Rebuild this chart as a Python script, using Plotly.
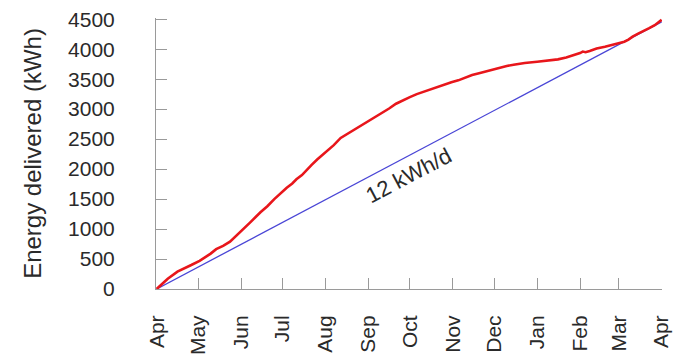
import datetime as dt
import plotly.graph_objects as go

# ---- data ----
start = dt.date(2006, 4, 1)
red_days = [0, 8, 15, 19, 25, 31, 36, 39, 43, 48, 53, 60, 64, 68, 75, 80, 85, 90, 94, 98,
            101, 105, 108, 112, 116, 120, 124, 128, 133, 138, 143, 148, 153, 158, 163, 168,
            173, 178, 183, 188, 193, 198, 203, 208, 213, 218, 223, 228, 233, 238, 243, 248,
            253, 258, 266, 275, 283, 290, 296, 300, 304, 306, 308, 310, 313, 318, 324, 330,
            335, 338, 341, 344, 348, 352, 356, 360, 363, 365]
red_kwh = [0, 170, 290, 330, 400, 470, 540, 590, 665, 720, 790, 940, 1030, 1120, 1280, 1380,
           1500, 1610, 1690, 1760, 1830, 1900, 1980, 2070, 2160, 2240, 2330, 2400, 2520, 2590,
           2650, 2720, 2800, 2860, 2930, 3010, 3090, 3150, 3200, 3250, 3290, 3340, 3370, 3410,
           3450, 3480, 3530, 3570, 3600, 3630, 3660, 3700, 3720, 3740, 3770, 3790, 3810, 3830,
           3860, 3890, 3910, 3935, 3960, 3950, 3970, 4010, 4040, 4075, 4100, 4125, 4160, 4210,
           4260, 4300, 4350, 4400, 4460, 4490]
ref_days = [0, 365]
ref_kwh = [0, 4455]
month_labels = ["Apr", "May", "Jun", "Jul", "Aug", "Sep", "Oct", "Nov", "Dec",
                "Jan", "Feb", "Mar", "Apr"]
y_ticks = [0, 500, 1000, 1500, 2000, 2500, 3000, 3500, 4000, 4500]
label_text = "12 kWh/d"
label_day = 182
label_kwh = 1900

to_date = lambda d: start + dt.timedelta(days=d)
month_ticks = []
for i in range(13):
    m = (start.month - 1 + i) % 12 + 1
    y = start.year + (start.month - 1 + i) // 12
    month_ticks.append(dt.date(y, m, 1))

FONT = "Liberation Sans, Arial, sans-serif"
AX = "#9a9a9a"
TXT = "#2a2a2a"

fig = go.Figure()
fig.add_trace(go.Scatter(x=[to_date(d) for d in ref_days], y=ref_kwh, mode="lines",
                         line=dict(color="#4a46d6", width=1.3), showlegend=False,
                         hoverinfo="skip"))
fig.add_trace(go.Scatter(x=[to_date(d) for d in red_days], y=red_kwh, mode="lines",
                         line=dict(color="#e8161b", width=2.6), showlegend=False))

fig.add_annotation(x=to_date(label_day), y=label_kwh, text=label_text, showarrow=False,
                   textangle=-27.8, font=dict(family=FONT, size=22, color=TXT))

# the page body puts the figure 8 px right and down
fig.update_layout(
    width=681, height=355,
    margin=dict(l=148, r=27, t=10, b=74, autoexpand=False),
    paper_bgcolor="white", plot_bgcolor="white",
    font=dict(family=FONT, color=TXT),
)
fig.update_xaxes(
    type="date", automargin=False,
    range=[dt.datetime(2006, 3, 31, 12), dt.datetime(2007, 4, 1, 6)],
    tickvals=month_ticks, ticktext=month_labels, tickangle=-90,
    ticks="inside", ticklen=11, tickcolor=AX, tickwidth=1,
    showline=True, linecolor=AX, linewidth=1,
    showgrid=False, zeroline=False,
    tickfont=dict(family=FONT, size=21, color=TXT),
    ticklabelstandoff=17, ticklabeloverflow="allow",
)
fig.update_yaxes(
    range=[0, 4520], automargin=False,
    tickvals=y_ticks,
    ticks="inside", ticklen=11, tickcolor=AX, tickwidth=1,
    showline=True, linecolor=AX, linewidth=1,
    showgrid=False, zeroline=False,
    tickfont=dict(family=FONT, size=21, color=TXT),
    ticklabelstandoff=36, ticklabeloverflow="allow",
    title=dict(text="Energy delivered (kWh)", font=dict(family=FONT, size=24, color=TXT),
               standoff=19),
)

fig.write_html("out.html")
